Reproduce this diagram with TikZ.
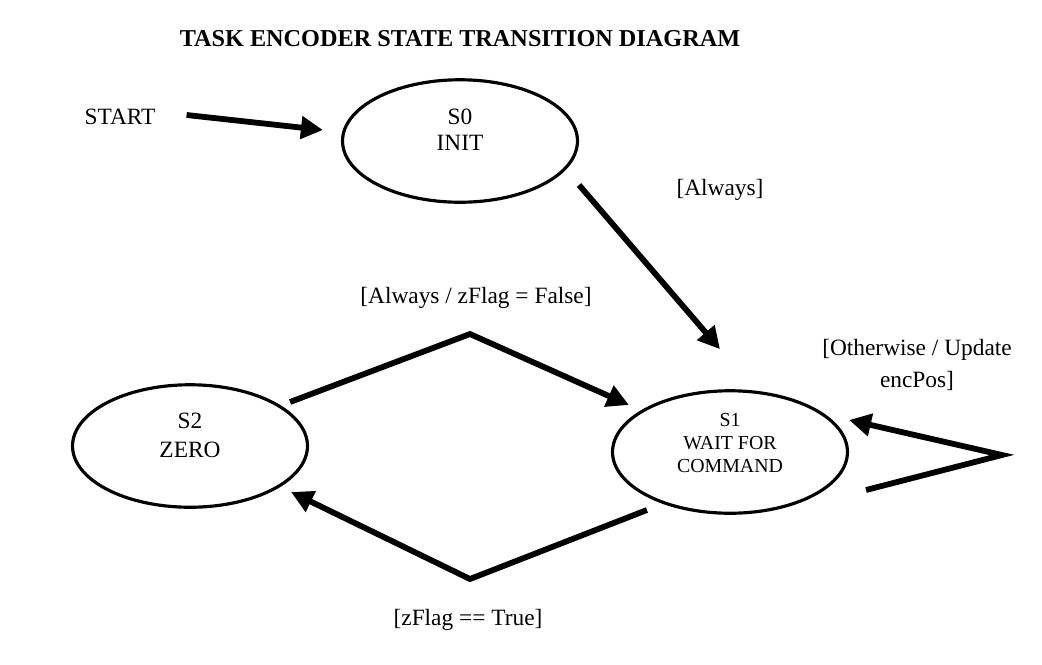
\documentclass[tikz,border=0pt]{standalone}
\usepackage{fontspec}
\setmainfont{Liberation Serif}
\usetikzlibrary{arrows.meta,calc,shapes.geometric}

\begin{document}
\begin{tikzpicture}[x=0.02cm,y=-0.02cm,
		state/.style={draw,ellipse,line width=1.8pt,minimum width=4.7cm,minimum height=2.45cm,inner sep=0pt,align=center,font=\fontsize{13.3}{15}\selectfont},
		arr/.style={line width=3.3pt,-{Triangle[length=0.44cm,width=0.44cm]}},
		lbl/.style={font=\fontsize{13.3}{18}\selectfont,align=center}]
		\useasboundingbox (0,0) rectangle (1042,664);
		\node[font=\bfseries\fontsize{13.8}{16}\selectfont] (title) at (460,39) {TASK ENCODER STATE TRANSITION DIAGRAM};
		\node[lbl] (start) at (120,117) {START};
		\node[state,text depth=13pt] (S0) at (460,141) {S0\\INIT};
		\node[state,text depth=10pt,font=\fontsize{11.3}{13}\selectfont] (S1) at (730,452) {S1\\WAIT FOR\\COMMAND};
		\node[state,text depth=12pt,font=\fontsize{13.3}{16.5}\selectfont] (S2) at (190,446) {S2\\ZERO};
%
		\node[lbl] (always) at (720,190) {[Always]};
		\node[lbl] (zfalse) at (476,298) {[Always / zFlag = False]};
		\node[lbl] (ztrue) at (468,620) {[zFlag == True]};
		\node[lbl] (other) at (917,365) {[Otherwise / Update\\encPos]};
%
		\coordinate (topbend) at (470,334);
		\coordinate (botbend) at (470,579);
		\coordinate (loopbend) at (1002,455);
%
		\draw[arr] ($(start.east) + (25,-2)$) -- ($(S0.west) + (-18,-11)$);
		\draw[arr] ($(S0.east) + (0,44)$) -- ($(S1.north) + (-10,-40)$);
		\draw[arr] ($(S2.east) + (-19,-44)$) -- (topbend) -- ($(S1.west) + (18,-47)$);
		\draw[arr] ($(S1.west) + (36,58)$) -- (botbend) -- ($(S2.east) + (-18,46)$);
		\draw[arr] ($(S1.east) + (17,38)$) -- (loopbend) -- ($(S1.east) + (0,-32)$);
	\end{tikzpicture}
\end{document}
